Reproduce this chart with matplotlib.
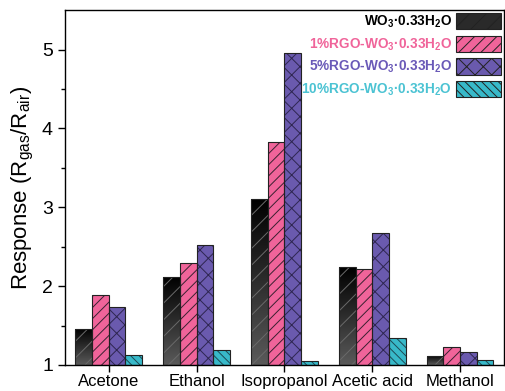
import numpy as np
import matplotlib
matplotlib.use("Agg")
import matplotlib.pyplot as plt
from matplotlib.patches import Patch
from matplotlib.colors import LinearSegmentedColormap

plt.rcParams['font.family'] = ['Liberation Sans', 'DejaVu Sans']
plt.rcParams['mathtext.fontset'] = 'custom'
plt.rcParams['mathtext.rm'] = 'Liberation Sans'
plt.rcParams['mathtext.bf'] = 'Liberation Sans:bold'
plt.rcParams['hatch.linewidth'] = 0.7

categories = ["Acetone", "Ethanol", "Isopropanol", "Acetic acid", "Methanol"]
series_names = [r"WO$_\mathbf{3}$·0.33H$_\mathbf{2}$O",
                r"1%RGO-WO$_\mathbf{3}$·0.33H$_\mathbf{2}$O",
                r"5%RGO-WO$_\mathbf{3}$·0.33H$_\mathbf{2}$O",
                r"10%RGO-WO$_\mathbf{3}$·0.33H$_\mathbf{2}$O"]
wo3 = [1.46, 2.12, 3.11, 2.24, 1.12]
rgo1 = [1.89, 2.29, 3.83, 2.22, 1.23]
rgo5 = [1.73, 2.52, 4.96, 2.68, 1.17]
rgo10 = [1.13, 1.19, 1.05, 1.34, 1.06]
series = [wo3, rgo1, rgo5, rgo10]

face = ["#333333", "#F0649A", "#6A5AAE", "#38B9C9"]
hatchc = ["#6a6a6a", "#3a2030", "#2e2650", "#1d4a55"]
hatches = ["//", "///", "xx", "\\\\\\\\"]
textc = ["#000000", "#F0649A", "#6A5AB8", "#4CC3D3"]

fig = plt.figure(figsize=(5.06, 3.91), dpi=100)
ax = fig.add_axes([0.128, 0.0665, 0.868, 0.9075])

x = np.arange(len(categories))
w = 0.19
base = 1.0
grad = np.linspace(0, 1, 256).reshape(-1, 1)
cmap = LinearSegmentedColormap.from_list("g", ["#000000", "#5a5a5a"])

for i, vals in enumerate(series):
    xs = x + (i - 1.5) * w
    heights = np.array(vals) - base
    fill = ax.bar(xs, heights, w, bottom=base, color=face[i], edgecolor=hatchc[i],
                  hatch=hatches[i], linewidth=0, zorder=2)
    if i == 0:
        for b in fill:
            b.set_facecolor("none")
            x0, y0 = b.get_x(), b.get_y()
            im = ax.imshow(grad, cmap=cmap, aspect="auto", zorder=1.5,
                           extent=[x0, x0 + b.get_width(), y0, y0 + b.get_height()],
                           origin="upper")
            im.set_clip_path(b)
    ax.bar(xs, heights, w, bottom=base, facecolor="none", edgecolor="#222222",
           linewidth=0.8, zorder=3)

ax.set_xlim(-0.5, 4.5)
ax.set_ylim(1, 5.5)
ax.set_xticks(x)
ax.set_xticklabels(categories, fontsize=12)
ax.set_yticks([1, 2, 3, 4, 5])
ax.set_yticks([1.5, 2.5, 3.5, 4.5], minor=True)
ax.tick_params(axis='y', labelsize=14, direction='out', length=5, width=1)
ax.tick_params(axis='y', which='minor', direction='out', length=3, width=1)
ax.tick_params(axis='x', direction='out', length=5, width=1, pad=1.5)
ax.set_ylabel(r"Response (R$_\mathregular{gas}$/R$_\mathregular{air}$)", fontsize=16)
for s in ax.spines.values():
    s.set_linewidth(1.0)

handles = [Patch(facecolor=face[i], edgecolor=hatchc[i], hatch=hatches[i], linewidth=0)
           for i in range(4)]
handles[0] = Patch(facecolor="#2a2a2a", edgecolor="#6a6a6a", hatch="//", linewidth=0)
leg = ax.legend(handles, series_names, loc="upper right", frameon=False,
                markerfirst=False, handlelength=3.3, handleheight=1.5,
                labelspacing=0.4, handletextpad=0.3, borderaxespad=0.0,
                borderpad=0.2, prop={'weight': 'bold', 'size': 9.8})
for t, c in zip(leg.get_texts(), textc):
    t.set_color(c)
for p in leg.get_patches():
    p.set_linewidth(0.8)
    p.set_edgecolor("#222222")

fig.savefig("out.png", dpi=100)
